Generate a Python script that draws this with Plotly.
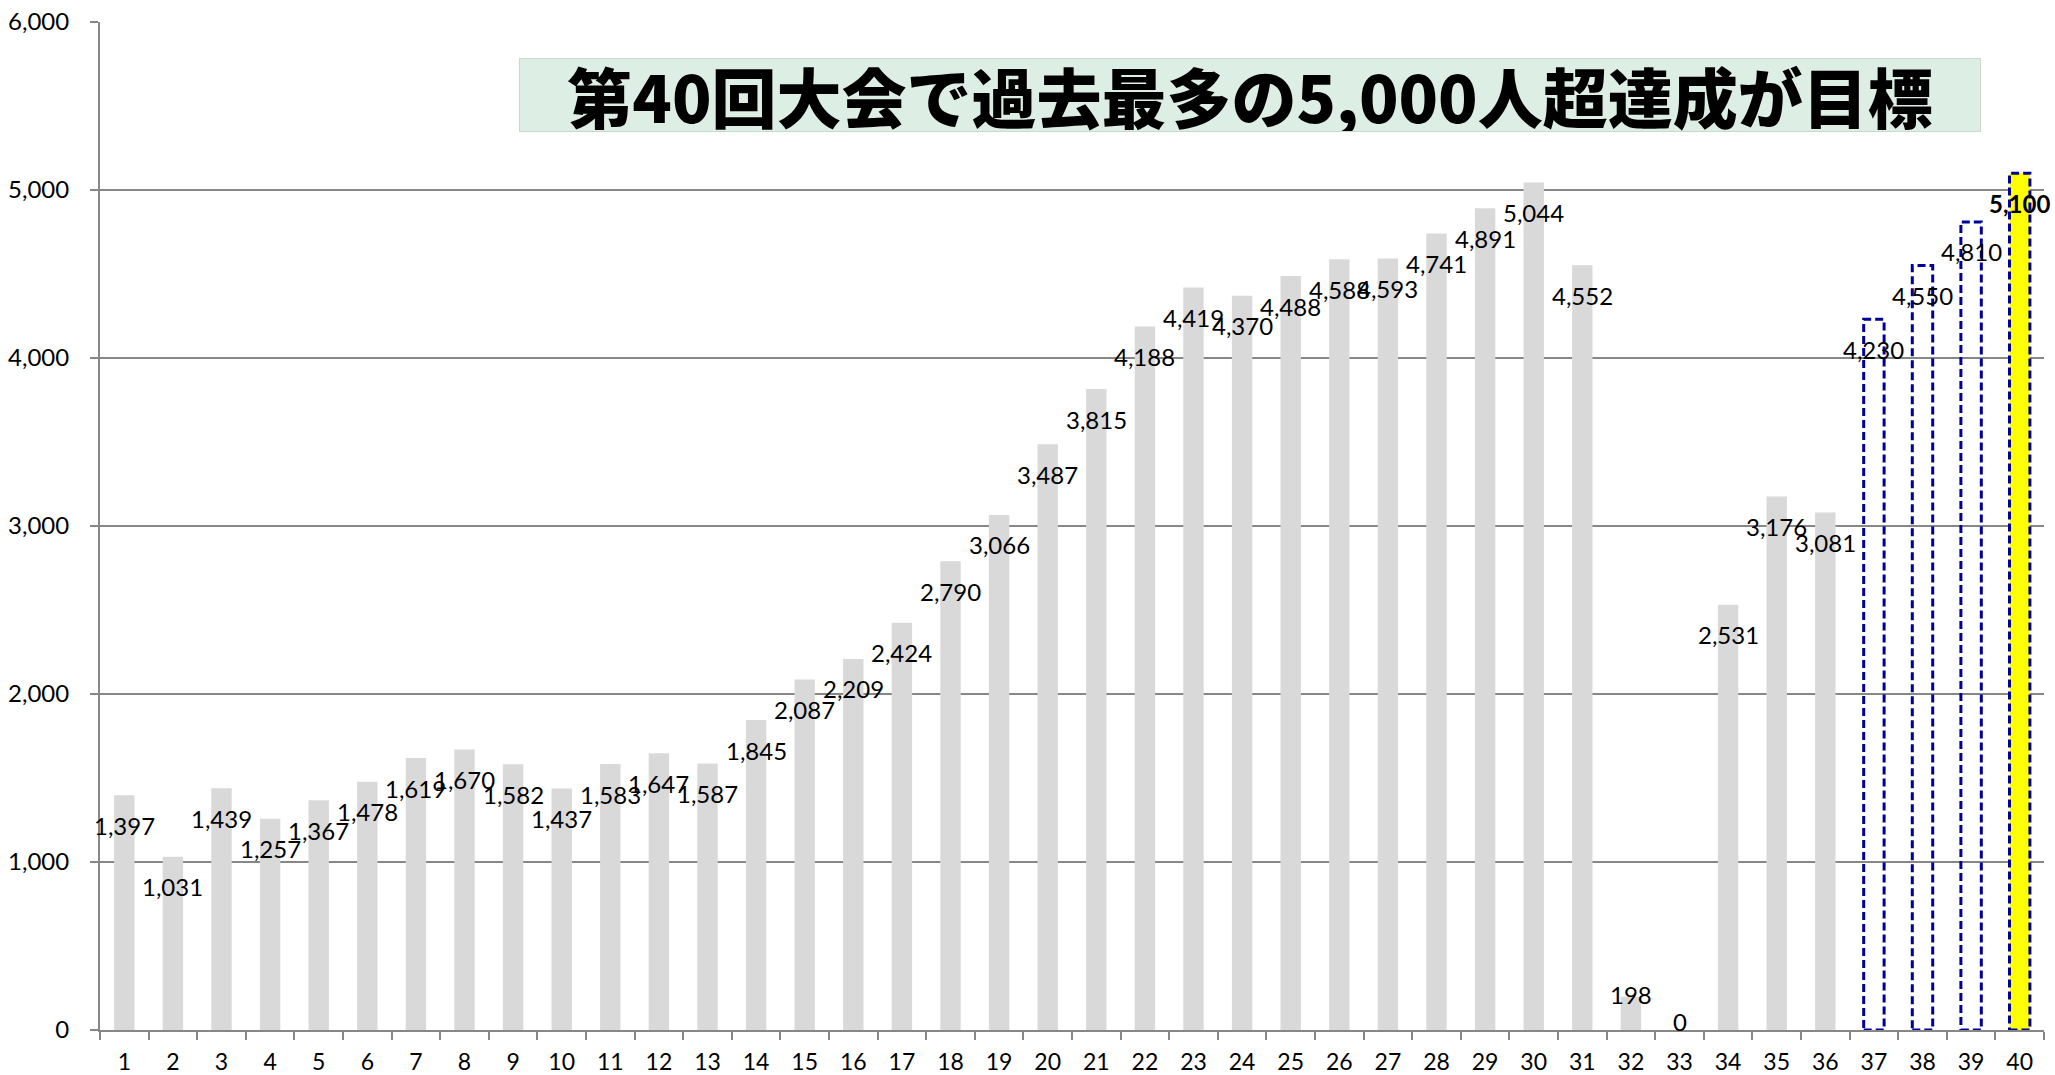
import plotly.graph_objects as go

# ---- data ----
editions = [str(i) for i in range(1, 41)]
participants = [1397, 1031, 1439, 1257, 1367, 1478, 1619, 1670, 1582, 1437,
                1583, 1647, 1587, 1845, 2087, 2209, 2424, 2790, 3066, 3487,
                3815, 4188, 4419, 4370, 4488, 4588, 4593, 4741, 4891, 5044,
                4552, 198, 0, 2531, 3176, 3081, 4230, 4550, 4810, 5100]
n_actual = 36          # editions 1-36 are results, 37-40 are targets
goal_edition = "40"
title_text = "第40回大会で過去最多の5,000人超達成が目標"
y_tickvals = [0, 1000, 2000, 3000, 4000, 5000, 6000]
y_ticktext = ["0", "1,000", "2,000", "3,000", "4,000", "5,000", "6,000"]

# ---- style ----
W, H = 2055, 1075
M = dict(l=100, r=11, t=22, b=45)
Y_MAX = 6000
BAR_W = 0.42
GREY = "#D9D9D9"
NAVY = "#000099"
YELLOW = "#FFFF00"
AXIS = "#878787"
LABEL_FONT = "Lato, 'Liberation Sans', sans-serif"
plot_h = H - M["t"] - M["b"]

colors = []
for i, e in enumerate(editions):
    if i < n_actual:
        colors.append(GREY)
    elif e == goal_edition:
        colors.append(YELLOW)
    else:
        colors.append("rgba(0,0,0,0)")

fig = go.Figure()
fig.add_trace(go.Bar(
    x=editions, y=participants, width=BAR_W,
    marker=dict(color=colors, line=dict(width=0)),
    hoverinfo="x+y", showlegend=False,
))

# dashed outlines for target editions
for i in range(n_actual, len(editions)):
    fig.add_shape(type="rect", xref="x", yref="y", layer="above",
                  x0=i - BAR_W / 2, x1=i + BAR_W / 2, y0=0, y1=participants[i],
                  line=dict(color=NAVY, width=3, dash="8px,4px"),
                  fillcolor="rgba(0,0,0,0)")


def label_shift(v):
    px = v / Y_MAX * plot_h
    if px >= 40:
        return -30
    return 9 - 0.21 * px


for i, (e, v) in enumerate(zip(editions, participants)):
    bold = (e == goal_edition)
    fig.add_annotation(
        x=i, y=v, xref="x", yref="y", showarrow=False,
        text=(f"<b>{v:,}</b>" if bold else f"{v:,}"),
        yshift=label_shift(v), yanchor="middle", xanchor="center",
        font=dict(family=LABEL_FONT, size=24, color="#000000"),
    )

fig.add_annotation(
    xref="paper", yref="paper", x=0.5916, y=0.928,
    xanchor="center", yanchor="middle", showarrow=False,
    text=title_text,
    width=1460, height=72, align="center", valign="middle",
    bgcolor="#DDEEE5", bordercolor="#C9D9D0", borderwidth=1, borderpad=0,
    font=dict(family="Noto Sans CJK JP", size=65, color="#000000", weight=900),
)

fig.update_layout(
    width=W, height=H, margin=M,
    paper_bgcolor="white", plot_bgcolor="white",
    bargap=0.58,
    xaxis=dict(
        type="category", tickson="boundaries", automargin=False,
        range=[-0.5, len(editions) - 0.5],
        showline=True, linecolor=AXIS, linewidth=2,
        ticks="outside", ticklen=8, tickwidth=2, tickcolor=AXIS,
        showgrid=False, ticklabelstandoff=10,
        tickfont=dict(family=LABEL_FONT, size=23, color="#000000"),
        fixedrange=True,
    ),
    yaxis=dict(
        range=[0, Y_MAX], tickvals=y_tickvals, ticktext=y_ticktext,
        automargin=False,
        showline=True, linecolor=AXIS, linewidth=2,
        ticks="outside", ticklen=8, tickwidth=2, tickcolor=AXIS,
        showgrid=True, gridcolor=AXIS, gridwidth=2, zeroline=False,
        ticklabelstandoff=16,
        tickfont=dict(family=LABEL_FONT, size=24, color="#000000"),
        fixedrange=True,
    ),
)

# remove the browser's default 8px body margin so the figure fills the window
fig.write_html("out.html", config={"displayModeBar": False},
               post_script="document.body.style.margin='0px';")
